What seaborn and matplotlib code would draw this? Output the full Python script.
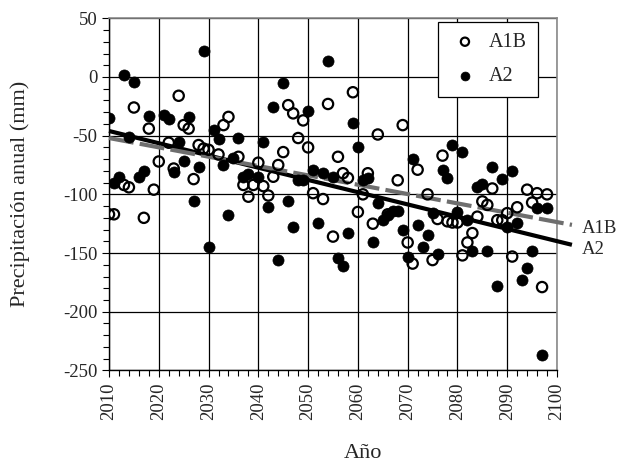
import numpy as np
import pandas as pd
import seaborn as sns
import matplotlib.pyplot as plt
from matplotlib.ticker import MultipleLocator

# values
a1b_years = [2010, 2011, 2013, 2014, 2015, 2017, 2018, 2019, 2020, 2022, 2023, 2024,
             2025, 2026, 2027, 2028, 2029, 2030, 2032, 2033, 2034, 2036, 2037, 2038,
             2039, 2040, 2041, 2042, 2043, 2044, 2045, 2046, 2047, 2048, 2049, 2050,
             2051, 2053, 2054, 2055, 2056, 2057, 2058, 2059, 2060, 2061, 2062, 2063,
             2064, 2066, 2068, 2069, 2070, 2071, 2072, 2074, 2075, 2076, 2077, 2078,
             2079, 2080, 2081, 2082, 2083, 2084, 2085, 2086, 2087, 2088, 2089, 2090,
             2091, 2092, 2094, 2095, 2096, 2097, 2098]
a1b_values = [-117, -117, -92, -94, -26, -120, -44, -96, -72, -56, -78, -16,
              -41, -44, -87, -58, -61, -62, -66, -41, -34, -68, -92, -102,
              -92, -73, -93, -101, -85, -75, -64, -24, -31, -52, -37, -60,
              -99, -104, -23, -136, -68, -82, -86, -13, -115, -100, -82, -125,
              -49, -117, -88, -41, -141, -159, -79, -100, -156, -121, -67, -123,
              -124, -124, -152, -141, -133, -119, -106, -109, -95, -122, -122, -116,
              -153, -111, -96, -107, -99, -179, -100]

a2_years = [2010, 2011, 2012, 2013, 2014, 2015, 2016, 2017, 2018, 2021, 2022, 2023,
            2024, 2025, 2026, 2027, 2028, 2029, 2030, 2031, 2032, 2033, 2034, 2035,
            2036, 2037, 2038, 2040, 2041, 2042, 2043, 2044, 2045, 2046, 2047, 2048,
            2049, 2050, 2051, 2052, 2053, 2054, 2055, 2056, 2057, 2058, 2059, 2060,
            2061, 2062, 2063, 2064, 2065, 2066, 2067, 2068, 2069, 2070, 2071, 2072,
            2073, 2074, 2075, 2076, 2077, 2078, 2079, 2080, 2081, 2082, 2083, 2084,
            2085, 2086, 2087, 2088, 2089, 2090, 2091, 2092, 2093, 2094, 2095, 2096,
            2097, 2098]
a2_values = [-35, -90, -85, 2, -51, -4, -85, -80, -33, -32, -36, -81,
             -55, -72, -34, -106, -77, 22, -145, -45, -53, -75, -118, -69,
             -52, -85, -83, -85, -55, -111, -26, -156, -5, -106, -128, -88,
             -88, -29, -79, -124, -82, 14, -85, -154, -161, -133, -39, -60,
             -88, -86, -141, -107, -122, -118, -114, -114, -130, -153, -70, -126,
             -145, -135, -116, -151, -79, -86, -58, -115, -64, -122, -148, -94,
             -91, -148, -77, -178, -87, -128, -80, -124, -173, -163, -148, -112,
             -237, -112]

# trend lines (end points)
trend_years = [2010, 2103]
a1b_trend = [-52, -126]
a2_trend = [-46, -143]

df_a1b = pd.DataFrame({"Año": a1b_years, "pp": a1b_values})
df_a2 = pd.DataFrame({"Año": a2_years, "pp": a2_values})

sns.set_style("ticks")
plt.rcParams['font.family'] = ['Liberation Serif', 'DejaVu Serif']
plt.rcParams['axes.unicode_minus'] = False

fig = plt.figure(figsize=(6.18, 4.66), dpi=100)
ax = fig.add_axes([109 / 618, 1 - 370.4 / 466, 448 / 618, 352.1 / 466])

ax.plot(trend_years, a2_trend, color="black", lw=3, clip_on=False, zorder=3,
        solid_capstyle="butt")
ax.plot(trend_years, a1b_trend, color="#6e6e6e", lw=3, ls=(0, (6, 1.5)),
        clip_on=False, zorder=3)

sns.scatterplot(data=df_a1b, x="Año", y="pp", ax=ax, marker="o", s=55,
                facecolor="none", edgecolor="black", linewidth=1.6,
                label="A1B", zorder=4)
sns.scatterplot(data=df_a2, x="Año", y="pp", ax=ax, marker="o", s=64,
                color="black", edgecolor="black", linewidth=0.5,
                label="A2", zorder=4)

ax.text(2105, -129, "A1B", fontsize=13.5, ha="left", va="center", clip_on=False)
ax.text(2105, -147, "A2", fontsize=13.5, ha="left", va="center", clip_on=False)

ax.set_xlim(2010, 2100)
ax.set_ylim(-250, 50)
ax.xaxis.set_major_locator(MultipleLocator(10))
ax.xaxis.set_minor_locator(MultipleLocator(2))
ax.yaxis.set_major_locator(MultipleLocator(50))
ax.yaxis.set_minor_locator(MultipleLocator(10))
ax.tick_params(axis="both", which="both", direction="out", color="black",
               labelsize=13.5, width=0.8)
ax.tick_params(axis="both", which="major", length=5)
ax.tick_params(axis="both", which="minor", length=4)
ax.tick_params(axis="x", labelrotation=90)
ax.grid(True, which="major", color="black", lw=0.9)

for side in ["left", "bottom"]:
    ax.spines[side].set_color("black")
    ax.spines[side].set_linewidth(1.0)
for side in ["top", "right"]:
    ax.spines[side].set_visible(True)
    ax.spines[side].set_color("#8a8a8a")
    ax.spines[side].set_linewidth(1.2)

ax.set_xlabel("Año", fontsize=16)
ax.set_ylabel("Precipitación anual (mm)", fontsize=16)
ax.xaxis.set_label_coords(0.567, -0.21)
ax.yaxis.set_label_coords(-0.176, 0.5)

leg = ax.legend(loc="upper right", bbox_to_anchor=(0.958, 0.99), fontsize=14.5,
                frameon=True, fancybox=False, framealpha=1, edgecolor="black",
                labelspacing=0.75, borderpad=0.55, borderaxespad=0,
                handletextpad=0.4, markerscale=0.8, handlelength=1.6)
leg.get_frame().set_linewidth(0.9)

fig.savefig("out.png", dpi=100)
